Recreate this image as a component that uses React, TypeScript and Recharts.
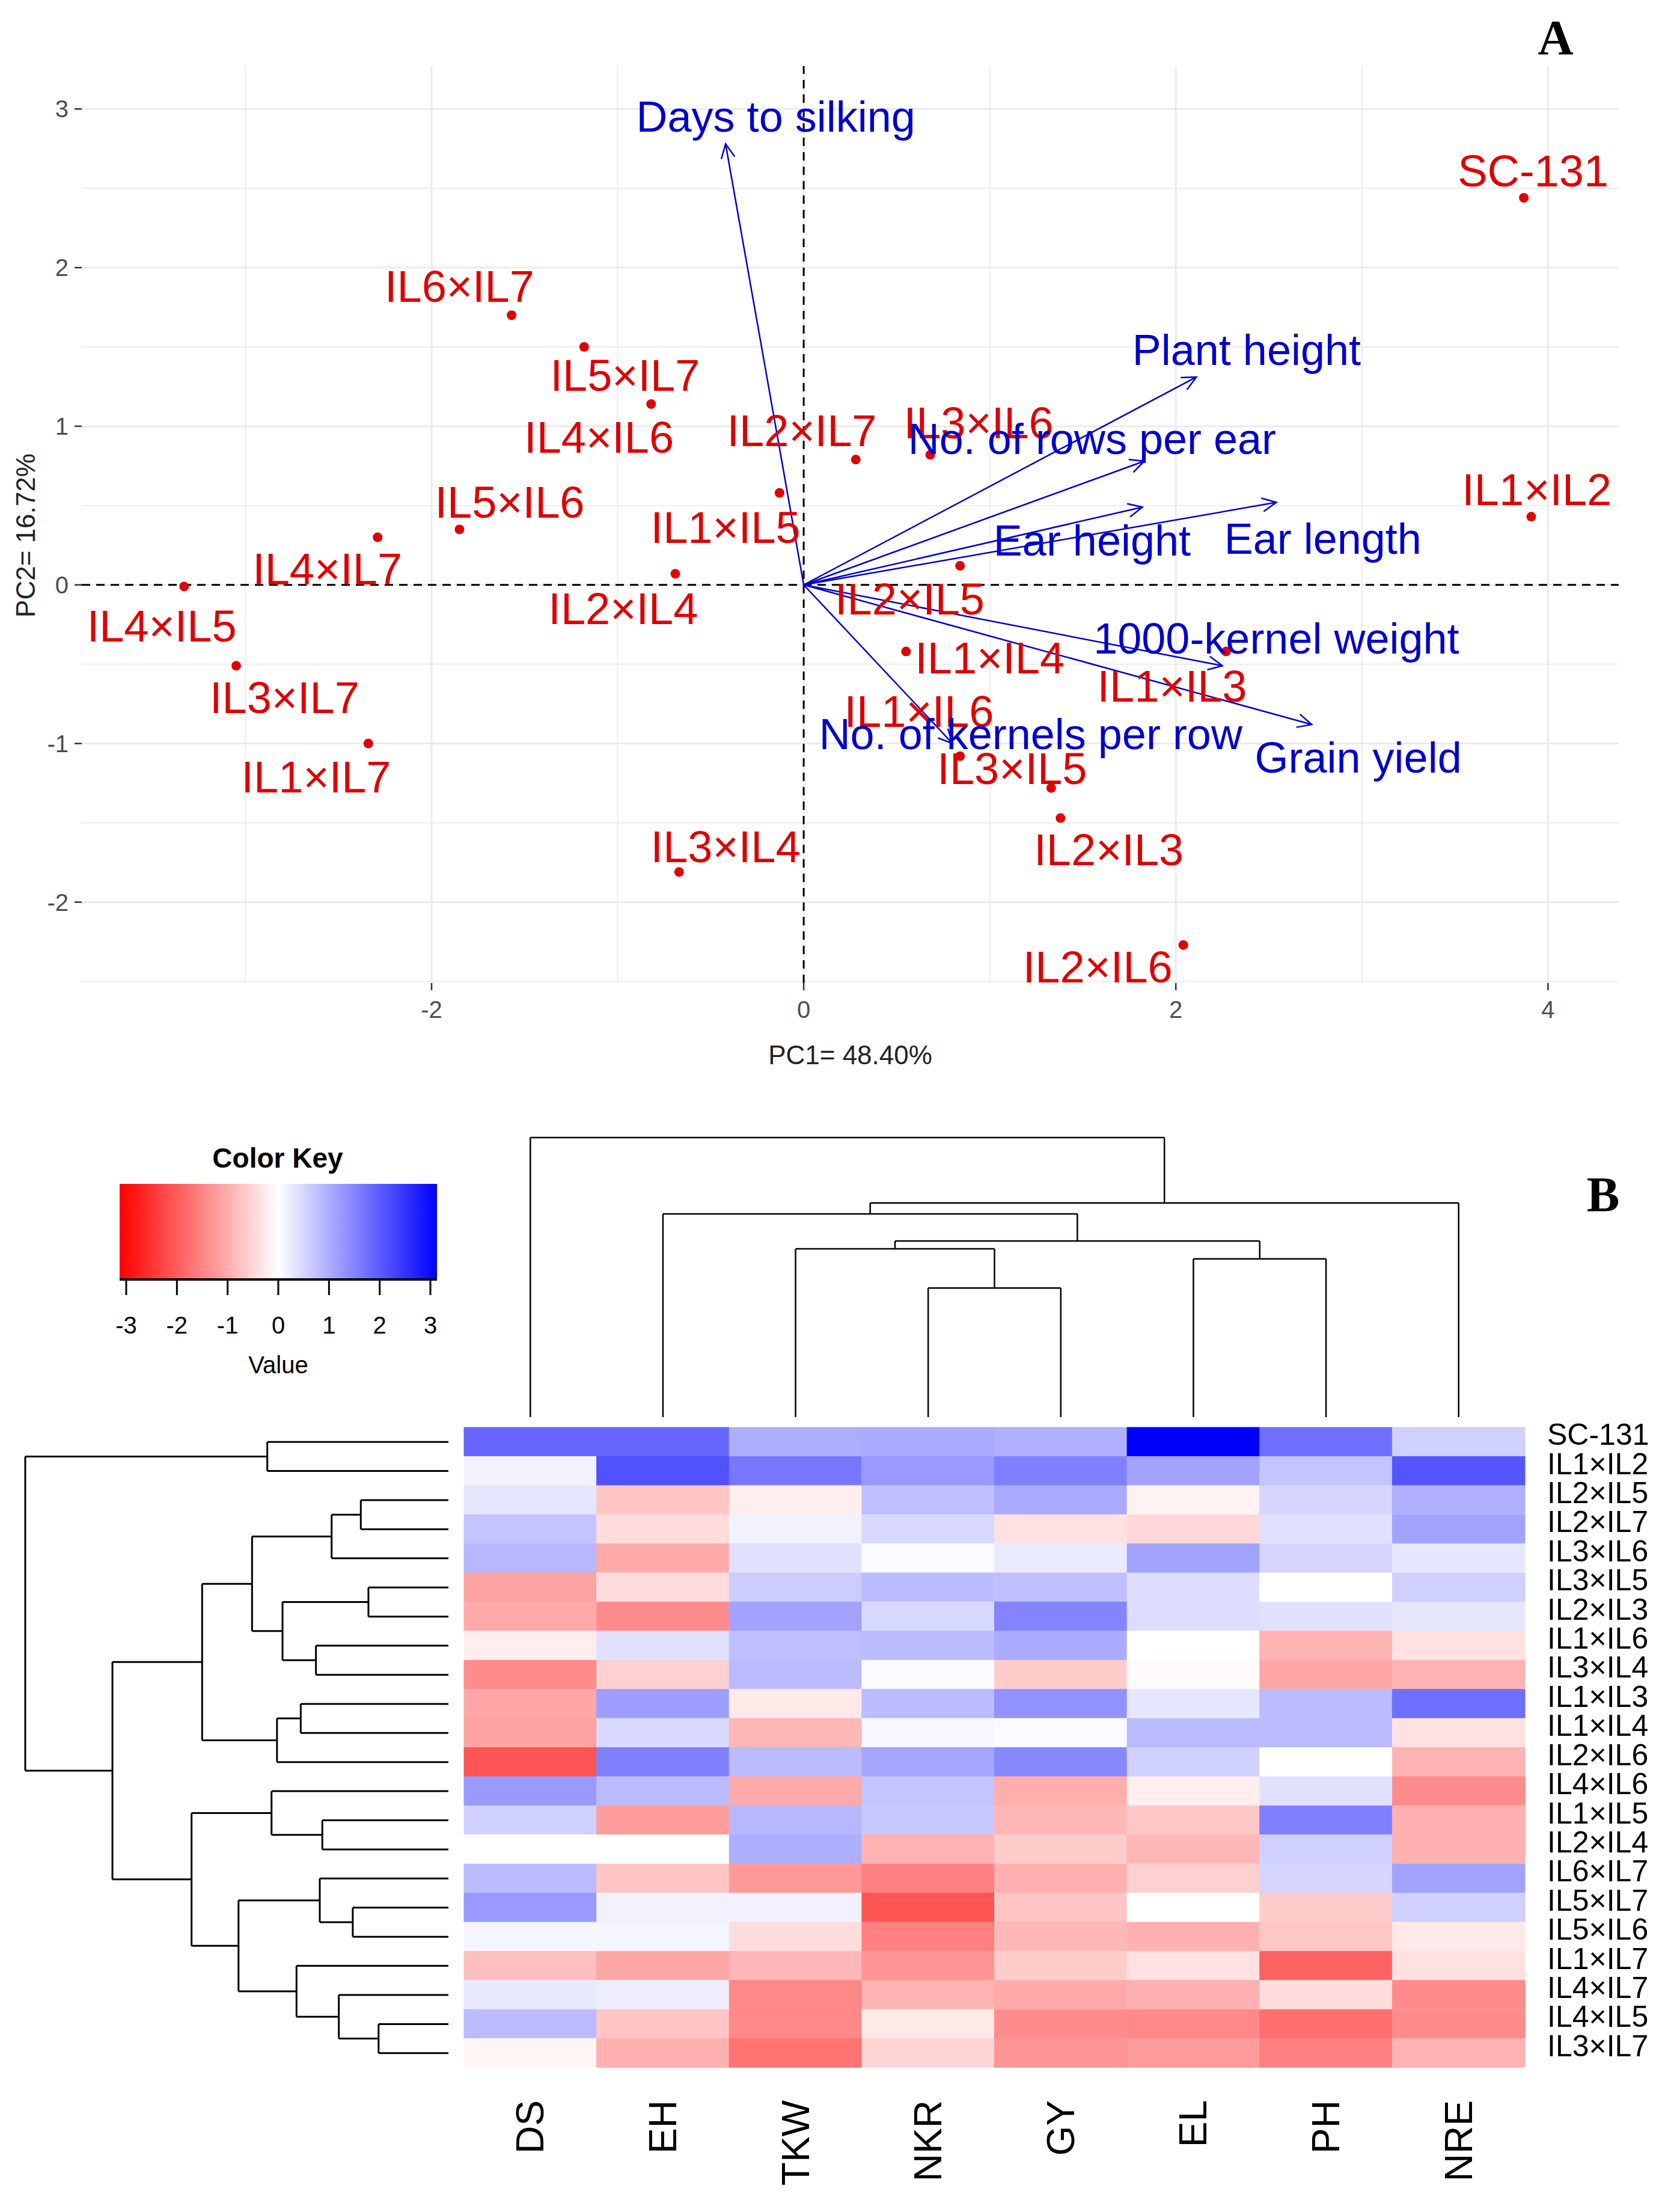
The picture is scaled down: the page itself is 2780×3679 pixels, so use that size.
import React from 'react';
import {
  ScatterChart,
  Scatter,
  XAxis,
  YAxis,
  ReferenceLine,
  ReferenceArea,
  BarChart,
  Bar,
  Cell,
} from 'recharts';

// ---------- Panel A: PCA biplot ----------
const genotypes = [
  'SC-131', 'IL1×IL2', 'IL2×IL5', 'IL2×IL7', 'IL3×IL6', 'IL3×IL5', 'IL2×IL3', 'IL1×IL6',
  'IL3×IL4', 'IL1×IL3', 'IL1×IL4', 'IL2×IL6', 'IL4×IL6', 'IL1×IL5', 'IL2×IL4', 'IL6×IL7',
  'IL5×IL7', 'IL5×IL6', 'IL1×IL7', 'IL4×IL7', 'IL4×IL5', 'IL3×IL7',
];
const pc1 = [3.87, 3.91, 0.84, 0.28, 0.68, 1.33, 1.38, 0.84, -0.67, 2.27, 0.55, 2.04, -0.82, -0.13, -0.69, -1.57, -1.18, -1.85, -2.34, -2.29, -3.33, -3.05];
const pc2 = [2.44, 0.43, 0.12, 0.79, 0.82, -1.28, -1.47, -1.08, -1.81, -0.42, -0.42, -2.27, 1.14, 0.58, 0.07, 1.7, 1.5, 0.35, -1.0, 0.3, -0.01, -0.51];
// repelled label anchors (data units)
const labelPc1 = [3.92, 3.94, 0.57, -0.01, 0.94, 1.12, 1.64, 0.62, -0.42, 1.98, 1.0, 1.58, -1.1, -0.42, -0.97, -1.85, -0.96, -1.58, -2.62, -2.56, -3.45, -2.79];
const labelPc2 = [2.61, 0.6, -0.09, 0.97, 1.02, -1.16, -1.67, -0.8, -1.65, -0.64, -0.46, -2.41, 0.93, 0.36, -0.15, 1.88, 1.32, 0.52, -1.21, 0.1, -0.26, -0.71];

const traits = [
  'Days to silking', 'Plant height', 'No. of rows per ear', 'Ear height', 'Ear length',
  '1000-kernel weight', 'Grain yield', 'No. of kernels per row',
];
const loadPc1 = [-0.42, 2.11, 1.83, 1.82, 2.54, 2.25, 2.73, 0.8];
const loadPc2 = [2.78, 1.31, 0.78, 0.49, 0.52, -0.51, -0.88, -1.0];
const traitLabelPc1 = [-0.15, 2.38, 1.55, 1.55, 2.79, 2.54, 2.98, 1.22];
const traitLabelPc2 = [2.95, 1.48, 0.92, 0.28, 0.29, -0.34, -1.09, -0.94];

const xMajor = [-2, 0, 2, 4];
const xMinor = [-3, -1, 1, 3];
const yMajor = [-2, -1, 0, 1, 2, 3];
const yMinor = [-2.5, -1.5, -0.5, 0.5, 1.5, 2.5];

// ---------- Panel B: heatmap ----------
const colNames = ['DS', 'EH', 'TKW', 'NKR', 'GY', 'EL', 'PH', 'NRE'];
const rowNames = genotypes;
const dsZ = [1.8, 0.15, 0.3, 0.7, 0.85, -1.1, -1.0, -0.2, -1.35, -1.05, -1.1, -2.0, 1.2, 0.55, 0, 0.8, 1.2, 0.12, -0.75, 0.27, 0.8, -0.12];
const ehZ = [1.8, 2.05, -0.7, -0.4, -1.0, -0.4, -1.35, 0.35, -0.55, 1.15, 0.45, 1.5, 0.8, -1.15, 0, -0.7, 0.15, 0.12, -1.05, 0.2, -0.7, -0.93];
const tkwZ = [0.95, 1.6, -0.2, 0.15, 0.35, 0.6, 1.1, 0.75, 0.8, -0.25, -0.85, 0.8, -1.0, 0.85, 0.95, -1.2, 0.17, -0.4, -0.85, -1.4, -1.4, -1.65];
const nkrZ = [1.0, 1.2, 0.75, 0.45, 0.05, 0.8, 0.45, 0.8, 0.05, 0.8, 0.1, 1.05, 0.7, 0.65, -0.9, -1.5, -2.0, -1.5, -1.25, -0.9, -0.27, -0.5];
const gyZ = [0.93, 1.5, 1.0, -0.35, 0.25, 0.75, 1.45, 1.0, -0.6, 1.3, 0.05, 1.4, -0.95, -0.85, -0.6, -0.93, -0.7, -0.85, -0.6, -1.0, -1.35, -1.25];
const elZ = [3.0, 1.1, -0.15, -0.45, 1.1, 0.4, 0.4, 0, -0.05, 0.3, 0.8, 0.55, -0.2, -0.65, -0.85, -0.55, 0, -0.93, -0.35, -0.93, -1.4, -1.15];
const phZ = [1.7, 0.7, 0.5, 0.35, 0.5, 0, 0.35, -0.9, -1.05, 0.8, 0.8, 0, 0.35, 1.5, 0.55, 0.5, -0.6, -0.65, -1.85, -0.4, -1.7, -1.5];
const nreZ = [0.55, 2.0, 0.93, 1.1, 0.3, 0.55, 0.3, -0.35, -0.9, 1.7, -0.35, -0.9, -1.35, -0.93, -0.93, 1.1, 0.55, -0.27, -0.35, -1.35, -1.35, -0.9];
const heatCols = [dsZ, ehZ, tkwZ, nkrZ, gyZ, elZ, phZ, nreZ];

// hclust-style merges: negative = leaf (1-based in display order), positive = earlier merge
const colMerges: [number, number, number][] = [
  [-4, -5, 4.62],
  [-6, -7, 5.66],
  [-3, 1, 6.02],
  [3, 2, 6.3],
  [-2, 4, 7.27],
  [5, -8, 7.66],
  [-1, 6, 10],
];
const rowMerges: [number, number, number][] = [
  [-1, -2, 4.28],
  [-3, -4, 2.07],
  [2, -5, 2.76],
  [-6, -7, 1.89],
  [-8, -9, 3.13],
  [4, 5, 3.92],
  [3, 6, 4.64],
  [-10, -11, 3.49],
  [8, -12, 4.05],
  [7, 9, 5.82],
  [-14, -15, 2.98],
  [-13, 11, 4.18],
  [-17, -18, 2.26],
  [-16, 13, 3.04],
  [-21, -22, 1.65],
  [-20, 15, 2.59],
  [-19, 16, 3.59],
  [14, 17, 4.96],
  [12, 18, 6.07],
  [10, 19, 7.94],
  [1, 20, 10],
];

const keyTicks = [-3, -2, -1, 0, 1, 2, 3];

const SANS = '"Liberation Sans", Arial, sans-serif';
const RED = '#DD0000';
const BLUE = '#0000CC';

function colorOf(v: number) {
  const c = Math.max(-3, Math.min(3, v));
  if (c < 0) {
    const t = Math.round(255 * (1 + c / 3));
    return `rgb(255,${t},${t})`;
  }
  const t = Math.round(255 * (1 - c / 3));
  return `rgb(${t},${t},255)`;
}

function buildDendro(merges: [number, number, number][]) {
  const pos: number[] = [];
  const ht: number[] = [];
  const segs: number[][] = [];
  const get = (k: number) => (k < 0 ? { p: -k - 0.5, h: 0 } : { p: pos[k - 1], h: ht[k - 1] });
  merges.forEach(([a, b, h]) => {
    const A = get(a);
    const B = get(b);
    segs.push([A.p, A.h, A.p, h]);
    segs.push([B.p, B.h, B.p, h]);
    segs.push([A.p, h, B.p, h]);
    pos.push((A.p + B.p) / 2);
    ht.push(h);
  });
  return segs;
}

const Nothing = () => <g />;

const ArrowShape = (props: any) => {
  const { x1, y1, x2, y2 } = props;
  const ang = Math.atan2(y2 - y1, x2 - x1);
  const len = 26;
  const spread = Math.PI / 7;
  const ax = x2 - len * Math.cos(ang - spread);
  const ay = y2 - len * Math.sin(ang - spread);
  const bx = x2 - len * Math.cos(ang + spread);
  const by = y2 - len * Math.sin(ang + spread);
  return (
    <g>
      <line x1={x1} y1={y1} x2={x2} y2={y2} stroke={BLUE} strokeWidth={2.5} />
      <polyline points={`${ax},${ay} ${x2},${y2} ${bx},${by}`} fill="none" stroke={BLUE} strokeWidth={2.5} />
    </g>
  );
};

function BiplotPanel() {
  const points = genotypes.map((name, i) => ({ x: pc1[i], y: pc2[i], name }));
  const labels = genotypes.map((name, i) => ({ x: labelPc1[i], y: labelPc2[i], name }));
  const traitLabels = traits.map((name, i) => ({ x: traitLabelPc1[i], y: traitLabelPc2[i], name }));

  return (
    <ScatterChart width={2780} height={1790} margin={{ top: 110, right: 87, bottom: 0, left: 0 }}>
      <XAxis
        type="number"
        dataKey="x"
        domain={[-3.88, 4.38]}
        ticks={xMajor}
        allowDataOverflow
        axisLine={false}
        tickSize={12}
        tickMargin={18}
        tickLine={{ stroke: '#333', strokeWidth: 2.5 }}
        tick={{ fontSize: 40, fill: '#4D4D4D', fontFamily: SANS }}
        height={155}
        label={{ value: 'PC1= 48.40%', position: 'insideBottom', offset: 20, fontSize: 44, fill: '#222', fontFamily: SANS }}
      />
      <YAxis
        type="number"
        dataKey="y"
        domain={[-2.51, 3.27]}
        ticks={yMajor}
        allowDataOverflow
        axisLine={false}
        width={136}
        tickSize={12}
        tickMargin={10}
        tickLine={{ stroke: '#333', strokeWidth: 2.5 }}
        tick={{ fontSize: 40, fill: '#4D4D4D', fontFamily: SANS }}
        label={{
          content: (p: any) => {
            const vb = p.viewBox;
            const cx = vb.x + 42;
            const cy = vb.y + vb.height / 2 + 18;
            return (
              <text x={cx} y={cy} transform={`rotate(-90, ${cx}, ${cy})`} textAnchor="middle" dominantBaseline="central" fontSize={44} fill="#222" fontFamily={SANS}>
                PC2= 16.72%
              </text>
            );
          },
        }}
      />
      {yMinor.map((v) => (
        <ReferenceLine key={`ym${v}`} y={v} stroke="#EBEBEB" strokeWidth={1.8} />
      ))}
      {xMinor.map((v) => (
        <ReferenceLine key={`xm${v}`} x={v} stroke="#EBEBEB" strokeWidth={1.8} />
      ))}
      {yMajor.map((v) => (
        <ReferenceLine key={`yM${v}`} y={v} stroke="#EBEBEB" strokeWidth={3} />
      ))}
      {xMajor.map((v) => (
        <ReferenceLine key={`xM${v}`} x={v} stroke="#EBEBEB" strokeWidth={3} />
      ))}
      <ReferenceLine y={0} stroke="#000" strokeWidth={3} strokeDasharray="14 10" />
      <ReferenceLine x={0} stroke="#000" strokeWidth={3} strokeDasharray="14 10" />
      {traits.map((t, i) => (
        <ReferenceLine
          key={t}
          segment={[{ x: 0, y: 0 }, { x: loadPc1[i], y: loadPc2[i] }]}
          ifOverflow="visible"
          shape={ArrowShape}
        />
      ))}
      <Scatter
        data={points}
        isAnimationActive={false}
        shape={(p: any) => <circle cx={p.cx} cy={p.cy} r={8} fill="#E00000" />}
      />
      <Scatter
        data={labels}
        isAnimationActive={false}
        shape={(p: any) => (
          <text x={p.cx} y={p.cy} textAnchor="middle" dominantBaseline="central" fontSize={74} fill={RED} fontFamily={SANS}>
            {p.payload.name}
          </text>
        )}
      />
      <Scatter
        data={traitLabels}
        isAnimationActive={false}
        shape={(p: any) => (
          <text x={p.cx} y={p.cy} textAnchor="middle" dominantBaseline="central" fontSize={72} fill={BLUE} fontFamily={SANS}>
            {p.payload.name}
          </text>
        )}
      />
    </ScatterChart>
  );
}

function ColumnDendrogram() {
  const segs = buildDendro(colMerges);
  const leaves = colNames.map((n, i) => ({ x: i + 0.5, y: 0, n }));
  return (
    <ScatterChart width={2780} height={520} margin={{ top: 42, right: 243, bottom: 13, left: 772 }}>
      <XAxis type="number" dataKey="x" domain={[0, 8]} hide />
      <YAxis type="number" dataKey="y" domain={[0, 10]} hide />
      <Scatter data={leaves} isAnimationActive={false} shape={Nothing} />
      {segs.map((s, i) => (
        <ReferenceLine
          key={i}
          segment={[{ x: s[0], y: s[1] }, { x: s[2], y: s[3] }]}
          stroke="#000"
          strokeWidth={2.5}
          ifOverflow="visible"
        />
      ))}
    </ScatterChart>
  );
}

function RowDendrogram() {
  const segs = buildDendro(rowMerges);
  const leaves = rowNames.map((n, i) => ({ x: 0, y: i + 0.5, n }));
  return (
    <ScatterChart width={772} height={1150} margin={{ top: 74, right: 26, bottom: 11, left: 42 }}>
      <XAxis type="number" dataKey="x" domain={[0, 10]} reversed hide />
      <YAxis type="number" dataKey="y" domain={[0, 22]} reversed hide />
      <Scatter data={leaves} isAnimationActive={false} shape={Nothing} />
      {segs.map((s, i) => (
        <ReferenceLine
          key={i}
          segment={[{ x: s[1], y: s[0] }, { x: s[3], y: s[2] }]}
          stroke="#000"
          strokeWidth={3}
          ifOverflow="visible"
        />
      ))}
    </ScatterChart>
  );
}

const ColTick = (props: any) => {
  const { x, y, payload } = props;
  const ty = y + 54;
  return (
    <text x={x} y={ty} transform={`rotate(-90, ${x}, ${ty})`} textAnchor="end" dominantBaseline="central" fontSize={64} fill="#000" fontFamily={SANS}>
      {colNames[Math.floor(payload.value)]}
    </text>
  );
};

const RowTick = (props: any) => {
  const { x, y, payload } = props;
  return (
    <text x={x} y={y - 12} textAnchor="start" dominantBaseline="central" fontSize={50} fill="#000" fontFamily={SANS}>
      {payload.value}
    </text>
  );
};

function Heatmap() {
  const table = rowNames.map((name) => {
    const row: any = { name };
    colNames.forEach((_, c) => {
      row[`c${c}`] = 1;
    });
    return row;
  });
  return (
    <BarChart
      width={2780}
      height={1379}
      data={table}
      layout="vertical"
      barCategoryGap={0}
      barGap={0}
      margin={{ top: 74, right: 0, bottom: 0, left: 772 }}
    >
      <XAxis
        type="number"
        domain={[0, 8]}
        ticks={[0.5, 1.5, 2.5, 3.5, 4.5, 5.5, 6.5, 7.5]}
        height={240}
        axisLine={false}
        tickLine={false}
        tickSize={0}
        tickMargin={0}
        tick={<ColTick />}
      />
      <YAxis
        type="category"
        dataKey="name"
        orientation="right"
        width={243}
        interval={0}
        axisLine={false}
        tickLine={false}
        tickSize={0}
        tickMargin={37}
        tick={<RowTick />}
      />
      {colNames.map((cn, c) => (
        <Bar key={cn} dataKey={`c${c}`} stackId="h" isAnimationActive={false}>
          {rowNames.map((rn, r) => (
            <Cell key={rn} fill={colorOf(heatCols[c][r])} stroke={colorOf(heatCols[c][r])} strokeWidth={1} />
          ))}
        </Bar>
      ))}
    </BarChart>
  );
}

function ColorKey() {
  const anchors = keyTicks.map((t) => ({ x: t, y: 0.5 }));
  return (
    <ScatterChart width={900} height={440} margin={{ top: 89, right: 173, bottom: 0, left: 199 }}>
      <XAxis
        type="number"
        dataKey="x"
        domain={[-3.13, 3.13]}
        ticks={keyTicks}
        allowDataOverflow
        height={192}
        axisLine={{ stroke: '#000', strokeWidth: 4 }}
        tickLine={{ stroke: '#000', strokeWidth: 3 }}
        tickSize={26}
        tickMargin={36}
        tick={{ fontSize: 40, fill: '#000', fontFamily: SANS }}
        label={{ value: 'Value', position: 'insideBottom', offset: 36, fontSize: 40, fill: '#000', fontFamily: SANS }}
      />
      <YAxis type="number" dataKey="y" domain={[0, 1]} hide />
      <ReferenceArea x1={-3.13} x2={3.13} y1={0} y2={1} fill="url(#keyGrad)" fillOpacity={1} stroke="none" ifOverflow="visible" />
      <Scatter data={anchors} isAnimationActive={false} shape={Nothing} />
    </ScatterChart>
  );
}

export default function App() {
  return (
    <div style={{ position: 'absolute', left: 0, top: 0, width: 2780, height: 3679, background: '#fff', overflow: 'hidden', fontFamily: SANS }}>
      <svg width={0} height={0} style={{ position: 'absolute' }}>
        <defs>
          <linearGradient id="keyGrad" x1="0" y1="0" x2="1" y2="0">
            <stop offset="0%" stopColor="#FF0000" />
            <stop offset="50%" stopColor="#FFFFFF" />
            <stop offset="100%" stopColor="#0000FF" />
          </linearGradient>
        </defs>
      </svg>
      <div style={{ position: 'absolute', left: 0, top: 0 }}>
        <BiplotPanel />
      </div>
      <div style={{ position: 'absolute', left: 2538, top: 18, width: 100, textAlign: 'center', fontFamily: '"Liberation Serif", serif', fontWeight: 'bold', fontSize: 82, lineHeight: '90px' }}>
        A
      </div>
      <div style={{ position: 'absolute', left: 0, top: 1850 }}>
        <ColumnDendrogram />
      </div>
      <div style={{ position: 'absolute', left: 0, top: 2300 }}>
        <RowDendrogram />
      </div>
      <div style={{ position: 'absolute', left: 0, top: 2300 }}>
        <Heatmap />
      </div>
      <div style={{ position: 'absolute', left: 0, top: 1880 }}>
        <ColorKey />
      </div>
      <div style={{ position: 'absolute', left: 262, top: 1900, width: 400, textAlign: 'center', fontWeight: 'bold', fontSize: 46, lineHeight: '52px', fontFamily: SANS }}>
        Color Key
      </div>
      <div style={{ position: 'absolute', left: 2617, top: 1942, width: 100, textAlign: 'center', fontFamily: '"Liberation Serif", serif', fontWeight: 'bold', fontSize: 82, lineHeight: '90px' }}>
        B
      </div>
    </div>
  );
}
